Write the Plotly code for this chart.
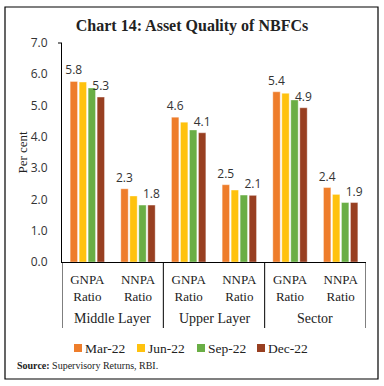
import plotly.graph_objects as go

groups = ["Middle Layer", "Upper Layer", "Sector"]
subcats = ["GNPA<br>Ratio", "NNPA<br>Ratio"] * 3
series_names = ["Mar-22", "Jun-22", "Sep-22", "Dec-22"]
mar22 = [5.77, 2.34, 4.63, 2.47, 5.44, 2.38]
jun22 = [5.75, 2.11, 4.47, 2.30, 5.39, 2.16]
sep22 = [5.56, 1.82, 4.22, 2.14, 5.18, 1.90]
dec22 = [5.27, 1.82, 4.13, 2.13, 4.93, 1.90]
values = [mar22, jun22, sep22, dec22]
colors = ["#EE7D2B", "#FFC20E", "#6AAE45", "#983F21"]
show_labels = [True, False, False, True]

x_pos = list(range(len(subcats)))
serif = "Liberation Serif"
sans = "Open Sans"

fig = go.Figure()
for name, vals, col, lab in zip(series_names, values, colors, show_labels):
    fig.add_trace(go.Bar(
        x=x_pos, y=vals, name=name, marker_color=col, showlegend=False,
        marker_line_width=0.6, marker_line_color="rgba(255,255,255,0.6)",
        text=[f"{v:.1f}" for v in vals] if lab else None,
        textposition="outside", cliponaxis=False, constraintext="none",
        textfont=dict(family=sans, size=12, color="#333333"),
    ))

# plot area geometry (window pixels)
L, R, T, B = 62, 366, 43, 262
W, H = 384, 386
ph = B - T
pw = R - L

def px_x(x):
    return (x - L) / pw

def px_y(y):
    return (B - y) / ph

shapes = [
    dict(type="rect", xref="paper", yref="paper",
         x0=px_x(5), x1=px_x(378), y0=px_y(379), y1=px_y(7),
         line=dict(color="black", width=1.2)),
    dict(type="line", xref="paper", yref="paper", x0=px_x(58), x1=0, y0=1, y1=1,
         line=dict(color="black", width=1)),
]
for b in [-0.5, 1.5, 3.5, 5.5]:
    shapes.append(dict(type="line", xref="x", yref="paper", x0=b, x1=b,
                       y0=0, y1=px_y(328), line=dict(color="black", width=1)))

annotations = []
for i, g in enumerate(groups):
    annotations.append(dict(text=g, x=2 * i + 0.5, xref="x", y=px_y(318), yref="paper",
                            showarrow=False, font=dict(family=serif, size=14, color="#222222"),
                            yanchor="middle"))
annotations.append(dict(text="<b>Source:</b> Supervisory Returns, RBI.", x=px_x(15), xref="paper",
                        y=px_y(365), yref="paper", xanchor="left", yanchor="middle",
                        showarrow=False, font=dict(family=serif, size=10, color="#222222")))
annotations.append(dict(text="Per cent", x=px_x(22), xref="paper", y=0.5, yref="paper",
                        textangle=-90, showarrow=False, xanchor="center", yanchor="middle",
                        font=dict(family=serif, size=13, color="#222222")))

# legend (square + label)
legend_sq_x = [74, 137, 197, 257]
legend_y = 348
for name, col, sx in zip(series_names, colors, legend_sq_x):
    shapes.append(dict(type="rect", xref="paper", yref="paper",
                       x0=px_x(sx), x1=px_x(sx + 8), y0=px_y(legend_y + 4), y1=px_y(legend_y - 4),
                       fillcolor=col, line=dict(width=0)))
    annotations.append(dict(text=name, x=px_x(sx + 9), xref="paper", y=px_y(legend_y + 0.5),
                            yref="paper", xanchor="left", yanchor="middle", showarrow=False,
                            font=dict(family=serif, size=13.5, color="#222222")))

fig.update_layout(
    width=W, height=H,
    margin=dict(l=L, r=W - R, t=T, b=H - B, autoexpand=False),
    paper_bgcolor="white", plot_bgcolor="white",
    barmode="group", bargap=0.29, bargroupgap=0.18,
    showlegend=False,
    title=dict(text="<b>Chart 14: Asset Quality of NBFCs</b>", x=0.5, xref="container",
               y=1 - 25 / H, yref="container", yanchor="middle", xanchor="center",
               font=dict(family=serif, size=16, color="#222222")),
    xaxis=dict(tickmode="array", tickvals=x_pos, ticktext=subcats, range=[-0.5, 5.5],
               showline=True, linecolor="black", linewidth=1, ticks="",
               ticklabelstandoff=5,
               tickfont=dict(family=serif, size=13, color="#222222"), showgrid=False,
               zeroline=False),
    yaxis=dict(range=[0, 7], dtick=1, tickformat=".1f", showline=True, linecolor="black",
               linewidth=1, ticks="", showgrid=False, zeroline=False,
               ticklabelstandoff=11,
               tickfont=dict(family=sans, size=12, color="#333333")),
    shapes=shapes, annotations=annotations,
)

fig.write_html("out.html", config={"displayModeBar": False},
               post_script="document.body.style.margin='0';")
